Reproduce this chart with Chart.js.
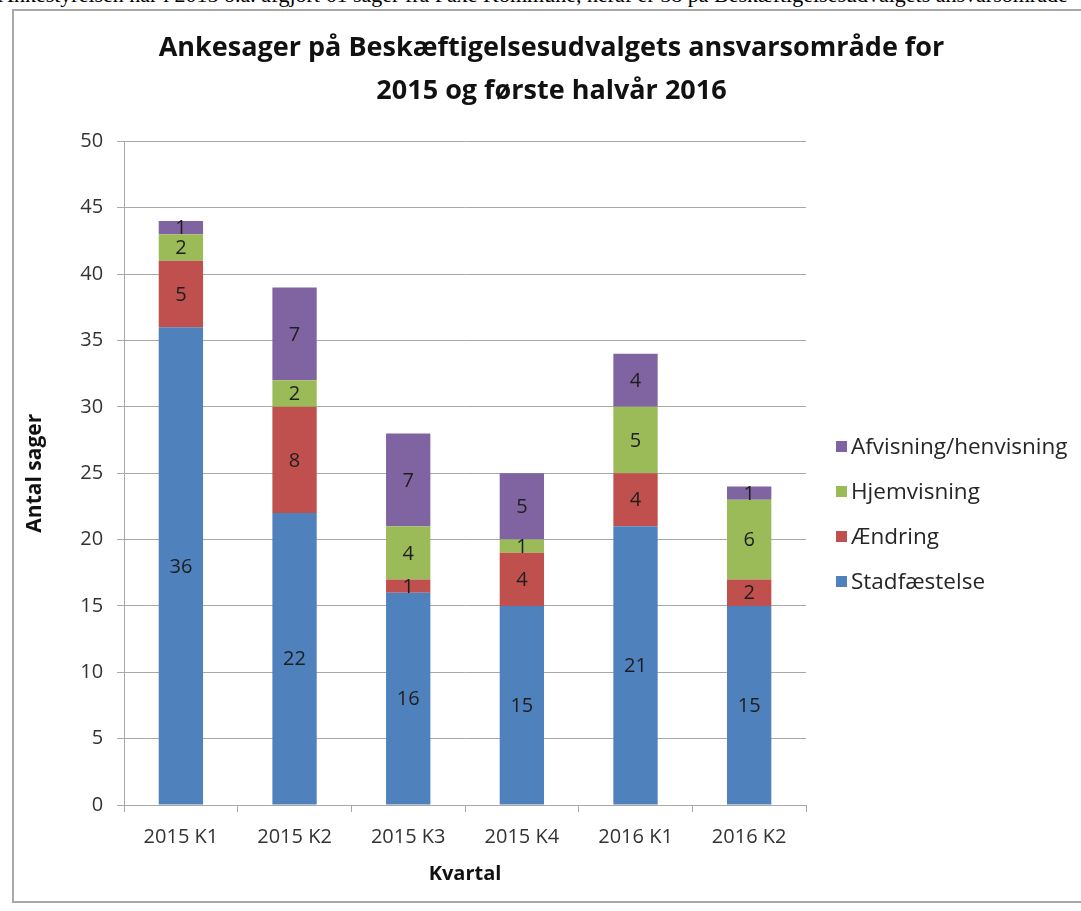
<!DOCTYPE html>
<html>
<head>
    <title>Ankesager</title>
    <meta charset="UTF-8">
    <style>
        body { margin:0; background:#fff; width:1081px; height:911px; overflow:hidden; position:relative; }
        .toptext { position:absolute; left:-2px; top:-16px; font-family:"Liberation Serif", serif; font-size:22px; line-height:22px; white-space:nowrap; color:#000; }
        .frame { position:absolute; left:12px; top:9px; width:1090px; height:894px; border:2px solid #a8a8a8; box-sizing:border-box; }
        .holder { position:absolute; left:14px; top:11px; width:1067px; height:892px; }
        .legend { position:absolute; left:836px; top:435px; font-family:"Open Sans", sans-serif; font-size:22.5px; color:#262626; }
        .legend div { height:45px; line-height:22px; white-space:nowrap; }
        .legend span { display:inline-block; width:11px; height:11px; margin-right:4px; vertical-align:2px; }
    </style>
</head>
<body>
<div class="toptext">Ankestyrelsen har i 2015 o.a. afgjort 61 sager fra Faxe Kommune, heraf er 58 på Beskæftigelsesudvalgets ansvarsområde</div>
<div class="frame"></div>
<div class="holder"><canvas id="myChart"></canvas></div>
<div class="legend" id="legend"></div>

<script src="https://cdn.jsdelivr.net/npm/chart.js@4.4.0/dist/chart.umd.min.js"></script>
<script>
    // data
    var kvartaler = ['2015 K1', '2015 K2', '2015 K3', '2015 K4', '2016 K1', '2016 K2'];
    var stadfaestelse = [36, 22, 16, 15, 21, 15];
    var aendring = [5, 8, 1, 4, 4, 2];
    var hjemvisning = [2, 2, 4, 1, 5, 6];
    var afvisning = [1, 7, 7, 5, 4, 1];

    var font = '"Open Sans", sans-serif';

    // writes the numbers in the middle of each bar piece
    var segmentLabels = {
        id: 'segmentLabels',
        afterDatasetsDraw: function(chart) {
            var ctx = chart.ctx;
            ctx.save();
            ctx.font = '20px ' + font;
            ctx.fillStyle = '#1e1e1e';
            ctx.textAlign = 'center';
            ctx.textBaseline = 'middle';
            chart.data.datasets.forEach(function(ds, i) {
                var meta = chart.getDatasetMeta(i);
                meta.data.forEach(function(bar, j) {
                    var v = ds.data[j];
                    if (!v) return;
                    ctx.fillText(String(v), bar.x, (bar.y + bar.base) / 2 + 1);
                });
            });
            ctx.restore();
        }
    };

    var datasets = [
        { label: 'Stadfæstelse', data: stadfaestelse, backgroundColor: '#4f81bd' },
        { label: 'Ændring', data: aendring, backgroundColor: '#c0504d' },
        { label: 'Hjemvisning', data: hjemvisning, backgroundColor: '#9bbb59' },
        { label: 'Afvisning/henvisning', data: afvisning, backgroundColor: '#8064a2' }
    ];

    // legend, top entry is the top piece of the stack
    var legendHtml = '';
    datasets.slice().reverse().forEach(function(d) {
        legendHtml += '<div><span style="background:' + d.backgroundColor + '"></span>' + d.label + '</div>';
    });
    document.getElementById('legend').innerHTML = legendHtml;

    var ctx = document.getElementById('myChart').getContext('2d');
    var chart = new Chart(ctx, {
        type: 'bar',
        data: { labels: kvartaler, datasets: datasets },
        options: {
            responsive: true,
            maintainAspectRatio: false,
            animation: false,
            barPercentage: 0.78,
            categoryPercentage: 0.5,
            layout: { padding: { left: 8, right: 0, top: 10, bottom: 12 } },
            plugins: {
                legend: { display: false },
                tooltip: { enabled: false },
                title: {
                    display: true,
                    text: ['Ankesager på Beskæftigelsesudvalgets ansvarsområde for', '2015 og første halvår 2016'],
                    color: '#111',
                    font: { family: font, size: 27, weight: 'bold', lineHeight: 1.6 },
                    padding: { top: 6, bottom: 28 }
                }
            },
            scales: {
                x: {
                    stacked: true,
                    grid: { display: true, drawOnChartArea: false, offset: true, tickLength: 7, color: '#a8a8a8' },
                    border: { color: '#a8a8a8' },
                    ticks: { color: '#333', font: { family: font, size: 20 }, padding: 13 },
                    title: { display: true, text: 'Kvartal', color: '#111', font: { family: font, size: 20, weight: 'bold' }, padding: { top: 0, bottom: 5 } }
                },
                y: {
                    stacked: true,
                    min: 0,
                    max: 50,
                    ticks: { stepSize: 5, color: '#333', font: { family: font, size: 20 }, padding: 14 },
                    grid: { color: '#a8a8a8', tickLength: 7 },
                    border: { color: '#a8a8a8' },
                    title: { display: true, text: 'Antal sager', color: '#111', font: { family: font, size: 21, weight: 'bold' }, padding: { top: 0, bottom: 19 } }
                },
                // empty room on the right for the legend, keeps the title centred on the whole box
                side: {
                    type: 'linear',
                    position: 'right',
                    grid: { display: false },
                    border: { display: false },
                    ticks: { display: false },
                    afterFit: function(scale) { scale.width = 275; }
                }
            }
        },
        plugins: [segmentLabels]
    });
</script>
</body>
</html>
